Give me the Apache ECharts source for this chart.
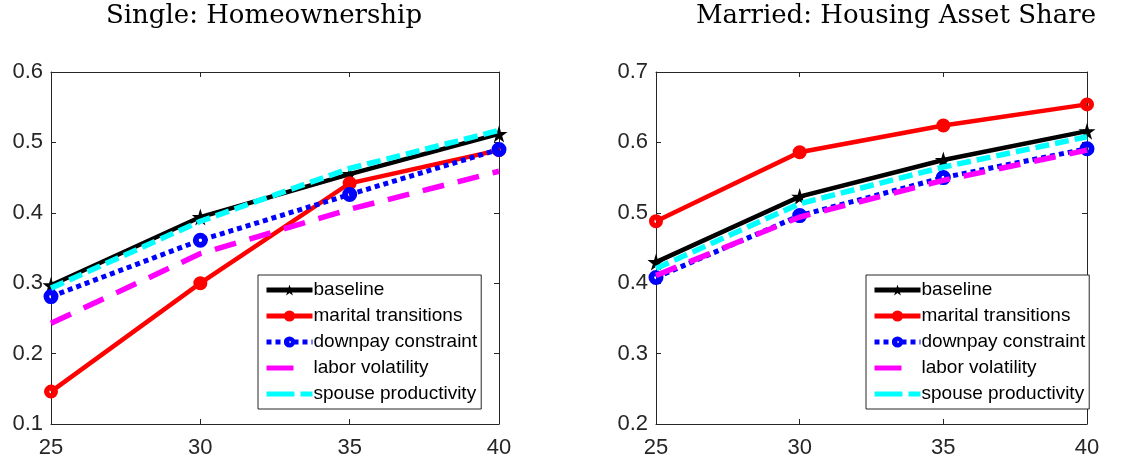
<!DOCTYPE html>
<html>
<head>
<meta charset="utf-8">
<script src="https://cdn.jsdelivr.net/npm/echarts@6/dist/echarts.min.js"></script>
<style>
html,body{margin:0;padding:0;background:#fff;}
#chart{width:1122px;height:463px;}
</style>
</head>
<body>
<div id="chart"></div>
<script>
// ---- data ----
const ages = [25, 30, 35, 40];
const seriesNames = ['baseline', 'marital transitions', 'downpay constraint', 'labor volatility', 'spouse productivity'];

// Single: Homeownership
const singleBaseline = [0.297, 0.394, 0.455, 0.512];
const singleMarital  = [0.146, 0.300, 0.442, 0.489];
const singleDownpay  = [0.281, 0.361, 0.426, 0.490];
const singleLabor    = [0.243, 0.342, 0.405, 0.459];
const singleSpouse   = [0.293, 0.388, 0.463, 0.517];

// Married: Housing Asset Share
const marriedBaseline = [0.430, 0.523, 0.575, 0.616];
const marriedMarital  = [0.488, 0.586, 0.624, 0.654];
const marriedDownpay  = [0.408, 0.496, 0.550, 0.591];
const marriedLabor    = [0.411, 0.494, 0.546, 0.589];
const marriedSpouse   = [0.421, 0.513, 0.565, 0.608];

const titles = ['Single: Homeownership', 'Married: Housing Asset Share'];
const xTicks = [25, 30, 35, 40];
const yRangeLeft = [0.1, 0.6];
const yRangeRight = [0.2, 0.7];

// ---- styling ----
const axisColor = '#262626';
const starPath = 'path://M50,0 L61,35 L98,35 L68,57 L79,91 L50,70 L21,91 L32,57 L2,35 L39,35 Z';
const ringPath = 'path://M0,50 A50,50 0 1,0 100,50 A50,50 0 1,0 0,50 Z M38,50 A12,12 0 1,1 62,50 A12,12 0 1,1 38,50 Z';
const styles = [
  {color:'#000000', type:'solid', width:4.5, symbol:starPath, size:17},
  {color:'#ff0000', type:'solid', width:4.5, symbol:ringPath, size:14},
  {color:'#0000ff', type:[5,4], width:5, symbol:ringPath, size:15},
  {color:'#ff00ff', type:[22,14], width:5.5, symbol:'none', size:0},
  {color:'#00ffff', type:[14,6], width:5.5, symbol:'none', size:0}
];
// legend icons for marker-less series (bounding box fixed by tiny corner marks)
const corners = ' M0,0 L0.02,0 L0,0.02 Z M46,14 L45.98,14 L46,13.98 Z';
const laborIcon = 'path://M0,4.5 L27,4.5 L27,9.5 L0,9.5 Z' + corners;
const spouseIcon = 'path://M0,4.5 L28,4.5 L28,9.5 L0,9.5 Z M34,4.5 L46,4.5 L46,9.5 L34,9.5 Z' + corners;

const leftData = [singleBaseline, singleMarital, singleDownpay, singleLabor, singleSpouse];
const rightData = [marriedBaseline, marriedMarital, marriedDownpay, marriedLabor, marriedSpouse];

function pairs(vals){ return ages.map((a,i)=>[a, vals[i]]); }

function makeSeries(dataSets, axisIdx){
  return dataSets.map((vals, i) => {
    const s = styles[i];
    return {
      name: seriesNames[i],
      type: 'line',
      xAxisIndex: axisIdx,
      yAxisIndex: axisIdx,
      data: pairs(vals),
      symbol: s.symbol,
      symbolSize: s.size,
      showSymbol: s.symbol !== 'none',
      lineStyle: {color: s.color, width: s.width, type: s.type, cap:'butt', join:'miter'},
      itemStyle: {color: s.color, borderWidth: 0},
      emphasis: {disabled: true},
      animation: false,
      z: 2 + i
    };
  });
}

const labelStyle = {color: axisColor, fontFamily: 'Liberation Sans, Arial, sans-serif', fontSize: 22};

function xAxisDef(gridIndex, position, showLabel){
  return {
    type: 'value', gridIndex, position, min: 25, max: 40, interval: 5,
    axisLine: {show: true, onZero: false, lineStyle: {color: axisColor, width: 1}},
    axisTick: {show: true, inside: true, length: 5, lineStyle: {color: axisColor}},
    axisLabel: Object.assign({show: showLabel, margin: 13}, labelStyle),
    splitLine: {show: false}
  };
}
function yAxisDef(gridIndex, position, range, showLabel){
  return {
    type: 'value', gridIndex, position, min: range[0], max: range[1], interval: 0.1,
    axisLine: {show: true, onZero: false, lineStyle: {color: axisColor, width: 1}},
    axisTick: {show: true, inside: true, length: 5, lineStyle: {color: axisColor}},
    axisLabel: Object.assign({show: showLabel, margin: 8, padding:[4,0,0,0], formatter: v => v.toFixed(1)}, labelStyle),
    splitLine: {show: false}
  };
}

function legendDef(left){
  return {
    left: left, top: 275, orient: 'vertical',
    data: [
      {name: seriesNames[0]},
      {name: seriesNames[1]},
      {name: seriesNames[2]},
      {name: seriesNames[3], icon: laborIcon},
      {name: seriesNames[4], icon: spouseIcon}
    ],
    backgroundColor: '#ffffff',
    borderColor: axisColor, borderWidth: 1,
    padding: [5, 4, 5, 6],
    itemWidth: 46, itemHeight: 14, itemGap: 6,
    selectedMode: false,
    lineStyle: {width: 5},
    textStyle: {color: '#000', fontFamily: 'Liberation Sans, Arial, sans-serif', fontSize: 19, lineHeight: 20, padding:[0,0,0,-4]}
  };
}

const titleStyle = {fontFamily: 'DejaVu Serif, serif', fontWeight: 'normal', fontSize: 26, color: '#000'};

const chart = echarts.init(document.getElementById('chart'), null, {renderer: 'canvas'});
chart.setOption({
  animation: false,
  backgroundColor: '#ffffff',
  title: [
    {text: titles[0], left: 264, top: 3, textAlign: 'center', padding: 0, textStyle: titleStyle},
    {text: titles[1], left: 896, top: 3, textAlign: 'center', padding: 0, textStyle: titleStyle}
  ],
  grid: [
    {left: 51, right: 623, top: 72, bottom: 39, containLabel: false},
    {left: 656, right: 35, top: 72, bottom: 39, containLabel: false}
  ],
  xAxis: [
    xAxisDef(0, 'bottom', true),
    xAxisDef(1, 'bottom', true),
    xAxisDef(0, 'top', false),
    xAxisDef(1, 'top', false)
  ],
  yAxis: [
    yAxisDef(0, 'left', yRangeLeft, true),
    yAxisDef(1, 'left', yRangeRight, true),
    yAxisDef(0, 'right', yRangeLeft, false),
    yAxisDef(1, 'right', yRangeRight, false)
  ],
  legend: [legendDef(258), legendDef(866)],
  series: makeSeries(leftData, 0).concat(makeSeries(rightData, 1))
});
</script>
</body>
</html>
